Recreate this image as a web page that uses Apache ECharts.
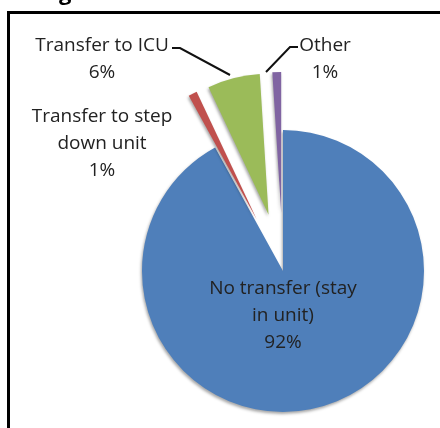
<!DOCTYPE html>
<html>
<head>
<meta charset="utf-8">
<script src="https://cdn.jsdelivr.net/npm/echarts@6/dist/echarts.min.js"></script>
<style>
  html, body { margin: 0; padding: 0; background: #fff; }
  #chart { width: 440px; height: 428px; }
</style>
</head>
<body>
<div id="chart"></div>
<script>
// data
var names = ['No transfer (stay\nin unit)', 'Transfer to step\ndown unit', 'Transfer to ICU', 'Other'];
var values = [92, 1, 6, 1];
var colors = ['#4F7FBA', '#C0504D', '#9BBB59', '#8064A2'];
var exploded = [false, true, true, true];

// where each label sits (text centre) and its leader line, in pixels
var labelSpots = [
  { x: 283, y: 316, line: null },
  { x: 102, y: 144, line: null },
  { x: 102, y: 59, line: [[230, 75], [180, 48], [172, 48]] },
  { x: 325, y: 59, line: [[266, 72], [290, 47], [298, 47]] }
];

var myChart = echarts.init(document.getElementById('chart'));

var pieCenter = [283, 271];
var pieRadius = 141;

// slices (with the exploded ones pulled out)
var sliceData = names.map(function (n, i) {
  return {
    name: n,
    value: values[i],
    selected: exploded[i],
    itemStyle: { color: colors[i] },
    select: { itemStyle: { color: colors[i] } }
  };
});

// same pie, invisible, only carries the labels and leader lines
var labelData = names.map(function (n, i) {
  return {
    name: n,
    value: values[i],
    labelLine: { show: !!labelSpots[i].line }
  };
});

var option = {
  animation: false,
  graphic: [
    {
      type: 'rect',
      shape: { x: 8.5, y: 12.5, width: 440, height: 430 },
      style: { fill: 'none', stroke: '#000', lineWidth: 3 }
    },
    {
      // bottom of the cut-off heading above the frame
      type: 'text',
      x: 59,
      y: 5,
      style: { text: 'g', font: 'bold 22px "Open Sans"', fill: '#000', verticalAlign: 'bottom' }
    }
  ],
  series: [
    {
      type: 'pie',
      center: pieCenter,
      radius: pieRadius,
      startAngle: 90,
      clockwise: true,
      selectedMode: 'multiple',
      selectedOffset: 58,
      data: sliceData,
      itemStyle: {
        shadowColor: 'rgba(0,0,0,0.35)',
        shadowBlur: 3,
        shadowOffsetX: -1,
        shadowOffsetY: 2
      },
      emphasis: { disabled: true },
      label: { show: false },
      labelLine: { show: false }
    },
    {
      type: 'pie',
      center: pieCenter,
      radius: pieRadius,
      startAngle: 90,
      clockwise: true,
      silent: true,
      avoidLabelOverlap: false,
      data: labelData,
      z: 5,
      itemStyle: { color: 'rgba(0,0,0,0)' },
      emphasis: { disabled: true },
      label: {
        show: true,
        position: 'outside',
        formatter: '{b}\n{d}%',
        fontFamily: 'Open Sans',
        fontSize: 19,
        lineHeight: 27,
        color: '#222',
        width: 240,
        overflow: 'none',
        align: 'center'
      },
      labelLine: {
        show: true,
        lineStyle: { color: '#111', width: 2 }
      },
      labelLayout: function (params) {
        var s = labelSpots[params.dataIndex];
        var out = { x: s.x, y: s.y, align: 'center', verticalAlign: 'middle' };
        if (s.line) out.labelLinePoints = s.line;
        return out;
      }
    }
  ]
};

myChart.setOption(option);
</script>
</body>
</html>
